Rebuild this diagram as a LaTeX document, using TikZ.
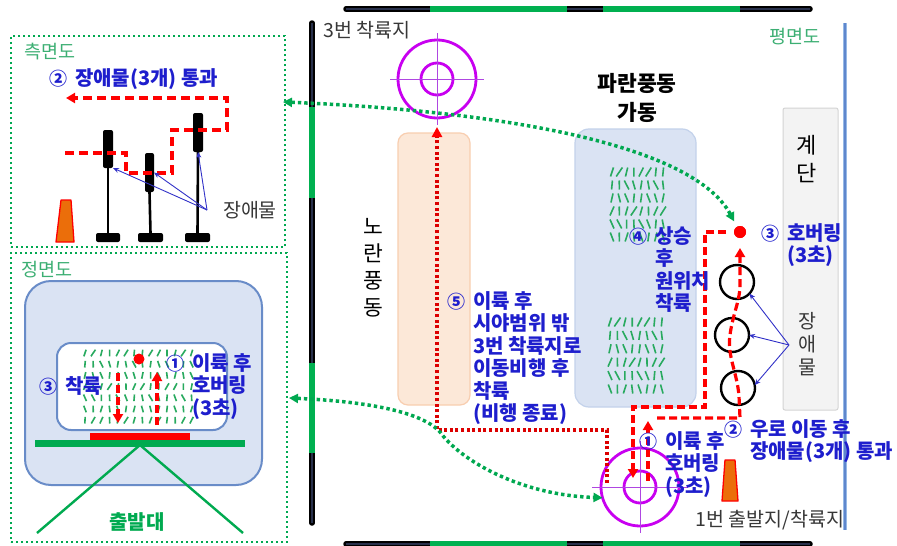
\documentclass[tikz,border=0pt]{standalone}
\usepackage{fontspec}
\setmainfont{Noto Sans CJK KR}
\usetikzlibrary{arrows.meta,calc}

% palette
\definecolor{txtblue}{RGB}{30,30,205}
\definecolor{dotgreen}{RGB}{0,168,80}
\definecolor{labgreen}{RGB}{60,175,115}
\definecolor{standgreen}{RGB}{0,170,80}
\definecolor{windgreen}{RGB}{40,170,95}
\definecolor{padmag}{RGB}{200,0,240}
\definecolor{padcrossc}{RGB}{175,70,225}
\definecolor{deepred}{RGB}{220,0,0}
\definecolor{coneorange}{RGB}{235,110,10}
\definecolor{skyfill}{RGB}{218,227,243}
\definecolor{skyline}{RGB}{195,210,235}
\definecolor{frontline}{RGB}{105,140,200}
\definecolor{peachfill}{RGB}{252,232,216}
\definecolor{peachline}{RGB}{248,206,176}
\definecolor{stairfill}{RGB}{243,243,243}
\definecolor{stairline}{RGB}{212,212,212}
\definecolor{darktext}{RGB}{55,55,55}
\definecolor{wallcore}{RGB}{40,48,75}
\definecolor{wallgreen}{RGB}{0,176,80}
\definecolor{glassedge}{RGB}{150,185,230}
\definecolor{glasscore}{RGB}{95,135,205}
\definecolor{calloutblue}{RGB}{50,50,200}

% small circled step numbers
\newcommand{\circnum}[1]{{\fontsize{18}{18}\selectfont #1}}

\begin{document}
\begin{tikzpicture}[x=1pt,y=-1pt,
  every node/.style={inner sep=0pt,outer sep=0pt},
  note/.style={text=txtblue,font=\fontsize{20}{22.5}\selectfont\bfseries,align=left,anchor=north west},
  greylabel/.style={text=darktext,font=\fontsize{19.5}{22}\selectfont},
  viewname/.style={text=labgreen,font=\fontsize{18.5}{22}\selectfont},
  viewframe/.style={draw=dotgreen,line width=2.4pt,dash pattern=on 2.4pt off 2.6pt},
  linkpath/.style={draw=dotgreen,line width=3.5pt,dash pattern=on 3.4pt off 3pt,
    {Triangle[length=9pt,width=9pt]}-{Triangle[length=9pt,width=9pt]}},
  flightdash/.style={draw=red,line width=3.2pt,dash pattern=on 8pt off 4pt,-{Triangle[length=9pt,width=10pt]}},
  flightdot/.style={draw=deepred,line width=3.5pt,dash pattern=on 3pt off 2.6pt,-{Triangle[length=10pt,width=10pt,color=red]}},
  wallbase/.style={line width=5.5pt,draw=black,line cap=round},
  wallcoreline/.style={line width=2pt,draw=wallcore},
  wallgap/.style={line width=5.5pt,draw=wallgreen},
  padring/.style={circle,draw=padmag,line width=2.8pt},
  padcross/.style={draw=padcrossc,line width=1pt},
  cone/.style={fill=coneorange,draw=red,line width=1.3pt,line join=round},
  postbar/.style={fill=black,rounded corners=2pt,minimum width=10,minimum height=38},
  postbase/.style={fill=black,rounded corners=2pt,minimum width=25,minimum height=9},
  postpole/.style={draw=black,line width=2.6pt},
  obstacle/.style={circle,draw=black,line width=2.4pt,minimum size=34},
  callout/.style={draw=calloutblue,line width=0.9pt,-{Stealth[length=6pt,width=5pt]}},
  windstroke/.style={draw=windgreen,line width=1.6pt},
]
\useasboundingbox (0,0) rectangle (897,546);
\fill[white] (0,0) rectangle (897,546);

% ---------------- side view ----------------
\node[viewframe,minimum width=274,minimum height=211] (sideview) at (148,141.5) {};
\node[viewname] (sidename) at (50,52) {측면도};
\node[note] (sidenote) at (75,68.3) {\llap{\circnum{②}\hspace{8pt}}장애물(3개) 통과};

\node[postbar] (bar1) at (108,149) {};
\node[postbar,minimum width=9,minimum height=39] (bar2) at (149.5,172.5) {};
\node[postbar,minimum height=39] (bar3) at (198,132.5) {};
\node[postbase,minimum width=24] (foot1) at (108,237.5) {};
\node[postbase] (foot2) at (150.5,237.5) {};
\node[postbase] (foot3) at (197.5,237.5) {};
\draw[postpole] (bar1.south) -- (foot1.north);
\draw[postpole] (bar2.south) -- (foot2.north);
\draw[postpole] (bar3.south) -- (foot3.north);

\draw[cone] (61,200) -- (71,200) -- (74,242) -- (56,242) -- cycle;

\draw[flightdash,line width=3.4pt,dash pattern=on 9pt off 5pt]
  (65,153) -- (126,153) -- (126,173) -- (172,173) -- (172,130) -- (227,130) -- (227,98) -- (66,98);

\node[greylabel] (sideobs) at (250,210) {장애물};
\coordinate (sidefan) at (207,210);
\draw[callout] (sidefan) -- (bar1.south east);
\draw[callout] (sidefan) -- (bar2.east);
\draw[callout] (sidefan) -- (bar3.south);

% ---------------- front view ----------------
\node[viewframe,minimum width=276,minimum height=289] (frontview) at (149,397.5) {};
\node[viewname] (frontname) at (47,270) {정면도};
\node[fill=skyfill,draw=frontline,line width=2pt,rounded corners=26pt,minimum width=237,minimum height=204] (tunnelfront) at (143.5,383) {};
\node[fill=white,draw=frontline,line width=2pt,rounded corners=14pt,minimum width=170,minimum height=87] (window) at (142,386.5) {};

% wind streaks in the front window
\foreach \row in {0,...,6}{
  \foreach \col in {0,...,13}{
    \pgfmathsetmacro{\lean}{(1.6*sin(97*\col+53*\row)+1.5*cos(125*\row))*0.73}
    \pgfmathsetmacro{\xa}{85+8.2*\col-\lean}
    \pgfmathsetmacro{\xb}{85+8.2*\col+\lean}
    \pgfmathsetmacro{\ya}{353+11.2*\row+3.3}
    \pgfmathsetmacro{\yb}{353+11.2*\row-3.3}
    \draw[windstroke] (\xa,\ya) -- (\xb,\yb);
  }
}

\coordinate (legL) at (37,533);
\coordinate (legR) at (243,533);
\draw[draw=standgreen,line width=2.4pt] (legL) -- (140,445) -- (legR);
\node[fill=standgreen,minimum width=210,minimum height=7] (standtop) at (140,443.5) {};
\node[fill=red,minimum width=100,minimum height=7] (startpad) at (140,436.5) {};
\node[text=standgreen,font=\fontsize{20}{22}\selectfont\bfseries] (standname) at (137,522) {출발대};

\draw[flightdash] (118,373) -- (118,423);
\draw[flightdash] (157,425) -- (157,372);
\node[circle,fill=red,minimum size=11] (frontdot) at (139,359) {};

\node[note] (frontnote1) at (192,353.3) {\llap{\circnum{①}\hspace{8pt}}이륙 후\\호버링\\(3초)};
\node[note] (frontnote3) at (65,376.3) {\llap{\circnum{③}\hspace{8pt}}착륙};

% ---------------- plan view ----------------
% walls
\draw[wallbase] (346,9) -- (810,9);
\draw[wallcoreline] (346,9) -- (810,9);
\draw[wallgap] (430,9) -- (567,9) (603,9) -- (740,9);
\draw[wallbase] (346,544) -- (810,544);
\draw[wallcoreline] (346,544) -- (810,544);
\draw[wallgap] (430,544) -- (567,544) (603,544) -- (740,544);
\draw[wallbase] (312,23) -- (312,523);
\draw[wallcoreline] (312,23) -- (312,523);
\draw[wallgap] (312,107) -- (312,198) (312,363) -- (312,453);
\draw[line width=4.5pt,draw=glassedge] (845,23) -- (845,530);
\draw[line width=1.5pt,draw=glasscore] (845,23) -- (845,530);

\node[greylabel] (pad3name) at (367,30) {3번 착륙지};
\node[viewname] (planname) at (795,37) {평면도};

% wind tunnels and stairs
\node[fill=peachfill,draw=peachline,line width=1.2pt,rounded corners=10pt,minimum width=72,minimum height=272] (yellowtunnel) at (434,269) {};
\node[fill=skyfill,draw=skyline,line width=1.2pt,rounded corners=14pt,minimum width=121,minimum height=278] (bluetunnel) at (635.5,268) {};
\node[fill=stairfill,draw=stairline,line width=1pt,rounded corners=2pt,minimum width=55,minimum height=302] (stairs) at (810.5,259) {};

% wind streaks in the two halves of the blue tunnel
\foreach \px/\py/\dx/\dy in {612/172/7.3/13, 610/322/7.4/13.4}{
  \foreach \row in {0,...,5}{
    \foreach \col in {0,...,7}{
      \pgfmathsetmacro{\lean}{1.6*sin(97*\col+53*\row)+1.5*cos(125*\row)}
      \pgfmathsetmacro{\xa}{\px+\dx*\col-\lean}
      \pgfmathsetmacro{\xb}{\px+\dx*\col+\lean}
      \pgfmathsetmacro{\ya}{\py+\dy*\row+4.5}
      \pgfmathsetmacro{\yb}{\py+\dy*\row-4.5}
      \draw[windstroke] (\xa,\ya) -- (\xb,\yb);
    }
  }
}

\node[font=\fontsize{21.5}{27}\selectfont,align=center] (yellowname) at (373,268) {노\\란\\풍\\동};
\node[font=\fontsize{21.5}{29}\selectfont\bfseries,align=center] (bluename) at (637,97.5) {파란풍동\\가동};
\node[font=\fontsize{22}{28}\selectfont,align=center] (stairname) at (807,159) {계\\단};

% landing pads
\node[padring,minimum size=78] (pad3) at (437,79) {};
\node[padring,minimum size=32] (pad3in) at (pad3) {};
\draw[padcross] ($(pad3)+(-47,0)$) -- ($(pad3)+(47,0)$) ($(pad3)+(0,-46)$) -- ($(pad3)+(0,46)$);
\node[padring,minimum size=78] (pad1) at (640,487) {};
\node[padring,minimum size=32] (pad1in) at (pad1) {};
\draw[padcross] ($(pad1)+(-48,0)$) -- ($(pad1)+(48,0)$) ($(pad1)+(0,-46)$) -- ($(pad1)+(0,46)$);

% obstacles and cone
\node[obstacle] (ob1) at (737,282) {};
\node[obstacle] (ob2) at (732,335) {};
\node[obstacle] (ob3) at (738,388) {};
\draw[cone] (725,460) -- (735,460) -- (738,501) -- (722,501) -- cycle;

\node[font=\fontsize{19.5}{23}\selectfont,text=darktext,align=center] (planobs) at (807,344) {장\\애\\물};
\coordinate (planfan) at (789,345);
\draw[callout] (planfan) -- (ob1.-43);
\draw[callout] (planfan) -- (ob2.east);
\draw[callout] (planfan) -- (ob3.10);

\node[greylabel] (pad1name) at (770,520) {1번 출발지/착륙지};

% hover point
\node[circle,fill=red,minimum size=12] (hover) at (740,232) {};

% flight legs
\coordinate (retstart) at (607,483);
\draw[flightdot,shorten >=9pt] (retstart) -- (607,430) -- (437,430) -- (pad3);
\draw[flightdash] (648,481) -- (648,421);
\draw[flightdash,shorten >=10pt] (657,418) -- (740,418) -- (739,396)
  .. controls (737,372) and (727,356) .. (730,335)
  .. controls (733,312) and (741,300) .. (740,280) -- (hover);
\draw[flightdash,shorten <=8pt] (hover) -- (705,232) -- (705,407) -- (633,407) -- (633,478);
\node[circle,fill=red,minimum size=12] at (hover) {};

% links from the plan to the side and front views
\coordinate (sidein) at (283,102);
\coordinate (frontin) at (289,398);
\draw[linkpath,shorten >=6pt] (sidein) .. controls (480,110) and (690,140) .. (hover);
\draw[linkpath] (frontin) .. controls (380,402) and (425,415) .. (440,432)
  .. controls (460,460) and (520,495) .. (pad1.196);

% step notes
\node[note] (note5) at (473,291.3) {\llap{\circnum{⑤}\hspace{8pt}}이륙 후\\시야범위 밖\\3번 착륙지로\\이동비행 후\\착륙\\(비행 종료)};
\node[note] (note4) at (655,226.3) {\llap{\circnum{④}\hspace{8pt}}상승\\후\\원위치\\착륙};
\node[note] (note3) at (787,223.3) {\llap{\circnum{③}\hspace{8pt}}호버링\\(3초)};
\node[note] (note1) at (665,431.3) {\llap{\circnum{①}\hspace{8pt}}이륙 후\\호버링\\(3초)};
\node[note] (note2) at (750,419.3) {\llap{\circnum{②}\hspace{8pt}}우로 이동 후\\장애물(3개) 통과};
\end{tikzpicture}
\end{document}
